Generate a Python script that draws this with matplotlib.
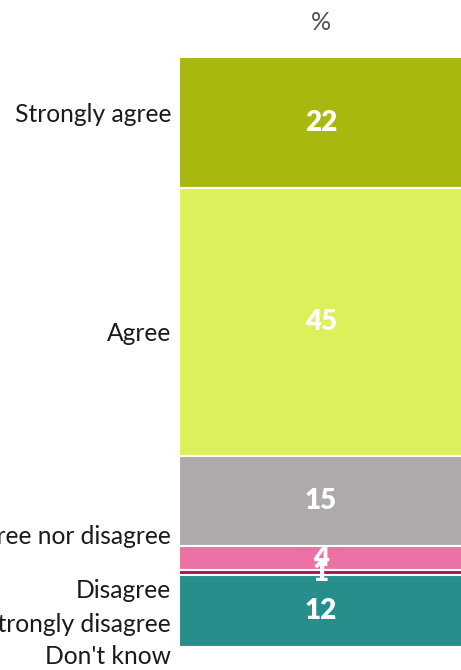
import matplotlib
matplotlib.use("Agg")
import matplotlib.pyplot as plt
import numpy as np

categories = ["Strongly agree", "Agree", "Neither agree nor disagree",
              "Disagree", "Strongly disagree", "Don't know"]
values = [22, 45, 15, 4, 1, 12]
colors = ["#A8B80F", "#DDF05C", "#AEAAA9", "#EC72A6", "#A6154F", "#268F8C"]

# vertical pixel positions of the category captions on the left
label_y_px = [115, 333, 537, 591, 624, 657]

W, H = 461, 670
plt.rcParams["font.family"] = ["Lato", "DejaVu Sans"]
fig = plt.figure(figsize=(W / 100, H / 100), dpi=100)

left_px, right_px, top_px, bottom_px = 179, 463, 57, 647
ax = fig.add_axes([left_px / W, 1 - bottom_px / H,
                   (right_px - left_px) / W, (bottom_px - top_px) / H])

total = sum(values)
bottoms = np.concatenate([[0], np.cumsum(values)[:-1]])
for v, b, c in zip(values, bottoms, colors):
    ax.bar(0, v, bottom=b, width=1.0, color=c, edgecolor="white",
           linewidth=1.5)
    ax.text(0, b + v / 2, f"{v}", ha="center", va="center",
            color="white", fontsize=20, fontweight="heavy")

ax.set_xlim(-0.5, 0.5)
ax.set_ylim(total, 0)
ax.axis("off")

fig.text(((left_px + right_px) / 2) / W, 1 - 22 / H, "%", ha="center",
         va="center", fontsize=18, color="#505050")

for name, ypx in zip(categories, label_y_px):
    fig.text(171 / W, 1 - ypx / H, name, ha="right", va="center",
             fontsize=17.7, color="#1a1a1a")

fig.savefig("out.png", dpi=100)
